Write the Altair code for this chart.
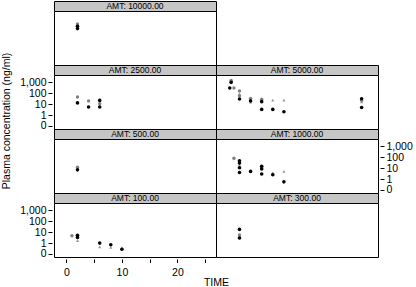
import altair as alt
import pandas as pd

# ---- data ----
amt_levels = [10000, 2500, 5000, 500, 1000, 100, 300]

pt_amt = [10000, 10000, 10000,
          2500, 2500, 2500, 2500, 2500, 2500, 2500,
          5000, 5000, 5000, 5000, 5000, 5000, 5000, 5000, 5000, 5000, 5000, 5000, 5000,
          5000, 5000, 5000, 5000, 5000, 5000, 5000, 5000, 5000, 5000,
          500, 500,
          1000, 1000, 1000, 1000, 1000, 1000, 1000, 1000, 1000, 1000, 1000, 1000, 1000, 1000, 1000, 1000,
          100, 100, 100, 100, 100, 100, 100, 100, 100, 100,
          300, 300, 300, 300]
pt_time = [2, 2, 2,
           2, 2, 4, 4, 6, 6, 6,
           0.5, 0.5, 0.5, 0.25, 1, 2, 2, 2, 4, 4, 4, 6, 6,
           6, 8, 8, 10, 10, 24, 24, 24, 24, 2,
           2, 2,
           1, 2, 2, 2, 2, 2, 4, 4, 6, 6, 6, 8, 8, 10, 10, 6,
           1, 2, 2, 2, 6, 6, 8, 8, 10, 10,
           2, 2, 2, 2]
pt_conc = [300, 185, 115,
           45, 13, 20, 5.5, 22, 11, 5.5,
           1500, 1200, 1000, 300, 300, 160, 85, 30, 34, 20, 15, 28, 17,
           3.3, 24, 3.3, 24, 2.0, 31, 22, 16, 5, 60,
           12, 7,
           80, 48, 29, 19, 11, 4, 5.5, 5, 15, 8.3, 2.9, 4, 2.5, 5, 0.56, 11,
           4.7, 5.2, 3.3, 1.7, 1.0, 0.45, 0.7, 0.4, 0.27, 0.38,
           18, 5.6, 4.5, 2.9]
pt_kind = ["PRED", "DV", "DV",
           "PRED", "DV", "PRED", "DV", "DV", "PRED", "DV",
           "PRED", "IPRED", "DV", "DV", "PRED", "PRED", "IPRED", "DV", "PRED", "DV", "IPRED", "PRED", "DV",
           "DV", "IPRED", "DV", "IPRED", "DV", "DV", "PRED", "IPRED", "DV", "PRED",
           "PRED", "DV",
           "PRED", "DV", "DV", "IPRED", "DV", "DV", "PRED", "DV", "DV", "DV", "DV", "IPRED", "DV", "IPRED", "DV", "PRED",
           "PRED", "DV", "DV", "IPRED", "DV", "IPRED", "DV", "IPRED", "DV", "IPRED",
           "DV", "PRED", "IPRED", "DV"]

y_ticks = [0.1, 1, 10, 100, 1000]
x_ticks = [0, 5, 10, 15, 20, 25]

kinds = ["IPRED", "PRED", "DV"]
kind_colors = ["#9a9a9a", "#808080", "#000000"]
kind_shapes = ["triangle-up", "circle", "circle"]
kind_sizes = [10, 13, 16]

df = pd.DataFrame({"AMT": pt_amt, "TIME": pt_time, "CONC": pt_conc, "KIND": pt_kind})
df["ord"] = df["KIND"].map({k: i for i, k in enumerate(kinds)})
df = df.sort_values("ord", kind="stable")

W = 162
HS = 10
HP = 54
FONT = "Liberation Sans"

xscale = alt.Scale(domain=[-2.23, 26.95], nice=False, zero=False)
yscale = alt.Scale(type="log", domain=[0.053, 4700], nice=False)


def y_axis(orient, title=None):
    kw = dict(orient=orient, values=y_ticks, format=",.0f", domain=False, grid=False,
              tickSize=4, tickColor="black", offset=2, labelPadding=2,
              labelFontSize=10.5, labelFont=FONT, labelColor="black",
              labelOverlap=False, labelFlush=False)
    if title:
        kw.update(title=title, titleX=-45.8, titleY=45.5, titleAngle=270,
                  titleAlign="center", titleBaseline="middle",
                  titleFont=FONT, titleFontSize=10.5, titleFontWeight="normal",
                  titleColor="black")
    else:
        kw.update(title=None)
    return alt.Axis(**kw)


x_axis_bottom = alt.Axis(values=x_ticks, labelExpr="datum.value % 10 == 0 ? datum.label : ''",
                         domain=False, grid=False, tickSize=3.5, tickColor="black",
                         offset=2, labelPadding=5, labelFontSize=10.5, labelFont=FONT,
                         labelColor="black", labelFlush=False,
                         title="TIME", titleX=162, titleY=23.5, titleAlign="center",
                         titleBaseline="middle", titleFont=FONT, titleFontSize=10.5,
                         titleFontWeight="normal", titleColor="black")


def panel(a, yax=None, xax=None):
    d = df[df["AMT"] == a]
    return alt.Chart(d).mark_point(filled=True, opacity=1).encode(
        x=alt.X("TIME:Q", scale=xscale, axis=xax),
        y=alt.Y("CONC:Q", scale=yscale, axis=yax),
        color=alt.Color("KIND:N", scale=alt.Scale(domain=kinds, range=kind_colors), legend=None),
        shape=alt.Shape("KIND:N", scale=alt.Scale(domain=kinds, range=kind_shapes), legend=None),
        size=alt.Size("KIND:N", scale=alt.Scale(domain=kinds, range=kind_sizes), legend=None),
    ).properties(width=W, height=HP,
                 view=alt.ViewBackground(stroke="black", strokeWidth=1, fill="white"))


def strip(a):
    d = pd.DataFrame({"label": [f"AMT: {a:.2f}"]})
    return alt.Chart(d).mark_text(fontSize=8.5, font=FONT, color="black").encode(
        text="label:N"
    ).properties(width=W, height=HS,
                 view=alt.ViewBackground(fill="#c6c6c6", stroke="black", strokeWidth=1))


def blank(h):
    d = pd.DataFrame({"v": [0]})
    return alt.Chart(d).mark_point(opacity=0).encode(
        x=alt.X("v:Q", axis=None), y=alt.Y("v:Q", axis=None)
    ).properties(width=W, height=h,
                 view=alt.ViewBackground(stroke="transparent", fill="transparent"))


cells = [
    strip(10000), blank(HS),
    panel(10000), blank(HP),
    strip(2500), strip(5000),
    panel(2500, yax=y_axis("left", "Plasma concentration (ng/ml)")), panel(5000),
    strip(500), strip(1000),
    panel(500), panel(1000, yax=y_axis("right")),
    strip(100), strip(300),
    panel(100, yax=y_axis("left"), xax=x_axis_bottom), panel(300),
]

chart = alt.concat(*cells, columns=2, spacing=0, bounds="flush").properties(
    padding={"left": 0, "top": 0, "right": 0, "bottom": 0},
    background="white",
).configure_view(stroke="black")

chart.save("out.html", embed_options={"renderer": "svg", "actions": False})
